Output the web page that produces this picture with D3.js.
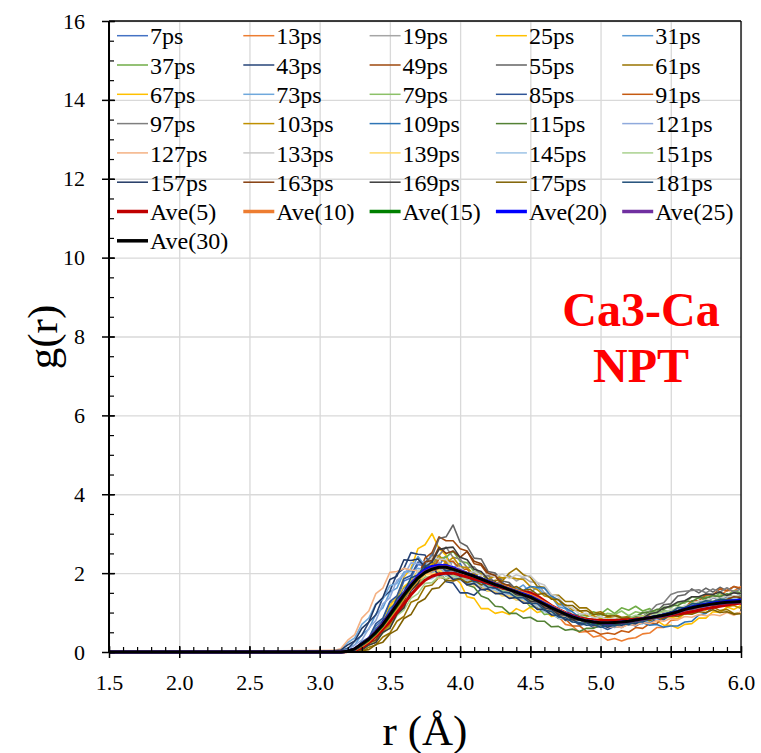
<!DOCTYPE html>
<html><head><meta charset="utf-8">
<script src="https://cdn.jsdelivr.net/npm/d3@7"></script>
<style>body{margin:0;background:#fff} svg{display:block}</style>
</head><body>
<svg id="c" width="761" height="753"></svg>
<script>
// r sampling (Å): first point at the axis start, then 3.10 .. 6.00 every 0.05
const rStart = 1.5;
const rGrid = [rStart].concat(d3.range(3.1, 6.0001, 0.05));

const xTickValues = [1.5, 2.0, 2.5, 3.0, 3.5, 4.0, 4.5, 5.0, 5.5, 6.0];
const yTickValues = [0, 2, 4, 6, 8, 10, 12, 14, 16];

const seriesNames = ["7ps","13ps","19ps","25ps","31ps","37ps","43ps","49ps","55ps","61ps",
  "67ps","73ps","79ps","85ps","91ps","97ps","103ps","109ps","115ps","121ps",
  "127ps","133ps","139ps","145ps","151ps","157ps","163ps","169ps","175ps","181ps"];
const seriesColors = ["#4472C4","#ED7D31","#A5A5A5","#FFC000","#5B9BD5",
  "#70AD47","#264478","#9E480E","#636363","#997300",
  "#FFC000","#6FA8DC","#8CC168","#2F5597","#C55A11",
  "#7F7F7F","#BF9000","#2E75B6","#548235","#8FAADC",
  "#F4B183","#C9C9C9","#FFD966","#9DC3E6","#A9D18E",
  "#203864","#843C0C","#3A3A3A","#7F6000","#1F4E79"];

const g7 = [0, 0,0,0.03,0.06,0.25,0.3,0.66,0.8,1.25,1.32,1.8,1.88,2.22,2.18,2.5,2.2,2.45,2.12,2.25,1.92,2.02,1.8,1.95,1.7,1.78,1.55,1.62,1.52,1.5,1.3,1.3,1.12,1.1,0.92,0.95,0.8,0.82,0.74,0.78,0.66,0.78,0.68,0.82,0.76,0.8,0.82,0.92,0.86,1.0,0.96,1.12,1.05,1.2,1.18,1.22,1.2,1.34,1.25,1.38];
const g13 = [0, 0,0,0.02,0.04,0.18,0.26,0.52,0.64,1.05,1.12,1.6,1.62,1.98,1.95,2.3,2.02,2.32,2.05,2.1,1.88,1.98,1.72,1.82,1.6,1.66,1.46,1.52,1.34,1.36,1.14,1.16,0.92,0.9,0.7,0.66,0.5,0.52,0.38,0.42,0.3,0.34,0.28,0.34,0.36,0.46,0.48,0.62,0.62,0.8,0.82,1.0,1.02,1.2,1.22,1.4,1.42,1.56,1.55,1.66];
const g19 = [0, 0,0,0.01,0.05,0.08,0.28,0.36,0.68,0.8,1.18,1.32,1.72,1.8,2.08,2.02,2.28,2.1,2.3,2.02,2.12,1.95,2.02,1.92,1.96,1.85,1.95,1.8,1.9,1.78,1.76,1.5,1.45,1.2,1.15,0.94,0.95,0.82,0.86,0.76,0.82,0.78,0.88,0.78,0.9,0.86,0.96,0.92,1.05,1.0,1.14,1.12,1.24,1.2,1.34,1.24,1.4,1.36,1.42,1.38];
const g25 = [0, 0,0,0.02,0.04,0.15,0.25,0.56,0.74,1.18,1.38,1.9,2.12,2.62,2.72,3.0,2.62,2.45,1.92,1.75,1.4,1.36,1.1,1.1,0.98,1.02,0.95,1.1,1.02,1.14,1.0,1.05,0.9,0.94,0.8,0.84,0.72,0.76,0.66,0.75,0.64,0.74,0.7,0.78,0.74,0.84,0.78,0.8,0.68,0.68,0.6,0.7,0.72,0.86,0.86,1.02,1.0,1.14,1.08,1.18];
const g31 = [0, 0.01,0.03,0.1,0.18,0.44,0.58,0.96,1.12,1.52,1.62,2.02,2.08,2.42,2.18,2.46,2.12,2.16,1.9,1.95,1.74,1.8,1.66,1.76,1.6,1.64,1.72,1.58,1.7,1.5,1.65,1.45,1.4,1.15,1.1,0.9,0.9,0.74,0.76,0.66,0.72,0.62,0.74,0.68,0.72,0.72,0.84,0.82,0.92,0.88,1.02,1.02,1.16,1.14,1.24,1.22,1.34,1.25,1.4,1.35];
const g37 = [0, 0,0,0.01,0.03,0.08,0.24,0.3,0.6,0.72,1.06,1.18,1.58,1.68,2.02,2.04,2.38,2.4,2.56,2.3,2.26,2.04,2.0,1.8,1.76,1.56,1.55,1.38,1.36,1.15,1.15,0.95,0.98,0.85,0.9,0.84,0.96,0.92,1.02,0.96,1.1,0.98,1.12,1.06,1.16,1.04,1.1,0.98,1.04,1.02,1.14,1.12,1.25,1.24,1.4,1.36,1.5,1.44,1.55,1.5];
const g43 = [0, 0.01,0.04,0.08,0.28,0.42,0.76,0.94,1.38,1.54,1.98,2.12,2.52,2.48,2.46,2.12,2.06,1.78,1.75,1.5,1.5,1.44,1.6,1.55,1.6,1.45,1.5,1.38,1.4,1.25,1.26,1.08,1.1,0.94,0.94,0.82,0.84,0.74,0.78,0.68,0.76,0.65,0.74,0.7,0.78,0.76,0.86,0.82,0.94,0.92,1.04,1.05,1.16,1.15,1.26,1.22,1.32,1.28,1.36,1.33];
const g49 = [0, 0,0,0.01,0.03,0.06,0.22,0.28,0.56,0.7,1.06,1.24,1.68,1.88,2.38,2.52,2.92,2.82,2.82,2.62,2.56,2.24,2.2,1.95,1.92,1.7,1.7,1.5,1.5,1.34,1.34,1.18,1.16,0.98,0.98,0.85,0.86,0.76,0.82,0.72,0.82,0.77,0.86,0.82,0.86,0.85,0.94,0.92,1.02,0.98,1.12,1.1,1.18,1.16,1.26,1.22,1.32,1.26,1.3,1.27];
const g55 = [0, 0,0,0.01,0.03,0.05,0.18,0.26,0.54,0.66,1.02,1.18,1.62,1.82,2.28,2.42,2.88,2.92,3.22,2.78,2.68,2.38,2.36,2.04,2.0,1.8,1.76,1.58,1.55,1.36,1.34,1.15,1.14,0.96,0.95,0.82,0.84,0.72,0.8,0.7,0.78,0.75,0.84,0.82,0.92,0.9,1.02,1.02,1.2,1.22,1.42,1.45,1.6,1.5,1.62,1.52,1.64,1.55,1.66,1.58];
const g61 = [0, 0,0,0,0.01,0.02,0.12,0.18,0.38,0.48,0.78,0.9,1.26,1.34,1.66,1.7,1.9,1.85,1.9,1.88,1.84,1.7,1.74,1.68,1.82,1.8,2.0,2.12,1.96,1.9,1.66,1.64,1.44,1.44,1.28,1.28,1.12,1.12,0.98,1.02,0.92,0.95,0.88,0.9,0.84,0.85,0.82,0.9,0.88,0.98,0.96,1.08,1.05,1.12,1.08,1.14,1.05,1.08,0.97,1.0];
const g67 = [0, 0,0,0.02,0.05,0.2,0.3,0.6,0.76,1.12,1.3,1.66,1.8,2.06,2.1,2.25,2.05,2.1,1.9,1.95,1.78,1.8,1.65,1.66,1.5,1.55,1.4,1.44,1.3,1.3,1.1,1.12,0.96,0.95,0.82,0.83,0.72,0.75,0.68,0.75,0.72,0.82,0.78,0.88,0.86,0.92,0.88,0.98,0.86,0.88,0.84,0.98,0.96,1.08,1.06,1.18,1.16,1.25,1.22,1.24];
const g73 = [0, 0.03,0.06,0.24,0.36,0.7,0.86,1.22,1.34,1.68,1.74,2.02,2.04,2.12,2.08,2.06,1.9,2.05,1.84,1.9,1.76,1.8,1.65,1.66,1.54,1.55,1.4,1.42,1.28,1.3,1.14,1.14,0.98,0.98,0.84,0.85,0.75,0.78,0.7,0.73,0.65,0.73,0.7,0.72,0.7,0.78,0.75,0.86,0.82,0.94,0.92,1.04,1.02,1.14,1.12,1.24,1.2,1.28,1.2,1.3];
const g79 = [0, 0,0,0.01,0.04,0.08,0.26,0.34,0.66,0.8,1.16,1.3,1.6,1.7,1.9,1.9,2.05,1.92,2.04,1.86,1.9,1.76,1.76,1.64,1.64,1.5,1.52,1.4,1.42,1.25,1.26,1.08,1.08,0.95,0.95,0.85,0.88,0.88,0.98,0.9,0.98,0.95,1.04,0.92,1.02,0.98,1.04,1.02,1.14,1.12,1.25,1.24,1.4,1.36,1.46,1.42,1.44,1.42,1.52,1.43];
const g85 = [0, 0,0.01,0.04,0.08,0.26,0.36,0.72,0.86,1.28,1.42,1.86,1.94,2.28,2.24,2.3,2.1,2.25,2.0,2.0,1.84,1.85,1.68,1.7,1.56,1.58,1.46,1.46,1.3,1.32,1.15,1.14,0.96,0.96,0.8,0.82,0.68,0.72,0.62,0.65,0.57,0.65,0.62,0.72,0.66,0.76,0.72,0.84,0.82,0.96,0.96,1.14,1.16,1.3,1.26,1.38,1.3,1.42,1.36,1.45];
const g91 = [0, 0,0,0.01,0.03,0.06,0.22,0.3,0.58,0.7,1.06,1.22,1.62,1.74,2.06,2.1,2.36,2.3,2.3,2.1,2.1,1.9,1.9,1.74,1.74,1.58,1.6,1.44,1.44,1.28,1.26,1.06,1.04,0.86,0.84,0.66,0.66,0.52,0.54,0.45,0.48,0.45,0.54,0.5,0.62,0.6,0.72,0.72,0.9,0.92,1.1,1.12,1.3,1.3,1.44,1.45,1.6,1.56,1.66,1.62];
const g97 = [0, 0,0,0.01,0.04,0.12,0.18,0.4,0.5,0.86,1.0,1.42,1.6,1.98,2.1,2.42,2.45,2.66,2.4,2.36,2.14,2.16,1.95,1.94,1.76,1.74,1.56,1.54,1.38,1.38,1.2,1.18,1.0,0.98,0.84,0.85,0.74,0.78,0.7,0.72,0.7,0.78,0.76,0.86,0.86,0.99,1.02,1.2,1.25,1.46,1.52,1.54,1.56,1.58,1.5,1.6,1.52,1.63,1.52,1.6];
const g103 = [0, 0,0,0,0.03,0.06,0.2,0.28,0.52,0.66,1.0,1.15,1.56,1.74,2.1,2.2,2.45,2.25,2.4,2.16,2.14,1.96,1.98,1.86,1.92,1.88,1.9,1.86,1.84,1.66,1.58,1.42,1.38,1.22,1.2,1.06,1.05,0.92,0.92,0.85,0.88,0.85,0.85,0.82,0.86,0.82,0.9,0.88,0.96,0.92,1.04,1.02,1.14,1.12,1.22,1.18,1.24,1.15,1.18,1.1];
const g109 = [0, 0,0,0.03,0.05,0.2,0.3,0.6,0.74,1.1,1.26,1.6,1.76,2.0,2.02,2.14,1.96,2.08,1.92,1.9,1.76,1.75,1.62,1.62,1.52,1.52,1.5,1.58,1.56,1.66,1.64,1.62,1.42,1.32,1.12,1.02,0.88,0.84,0.76,0.78,0.75,0.82,0.8,0.8,0.72,0.74,0.68,0.7,0.63,0.66,0.66,0.76,0.78,0.94,0.98,1.14,1.18,1.32,1.3,1.38];
const g115 = [0, 0,0,0.01,0.03,0.12,0.2,0.44,0.58,0.94,1.06,1.46,1.6,1.9,1.95,2.15,2.15,2.2,2.0,1.94,1.7,1.64,1.42,1.35,1.16,1.14,0.98,0.98,0.86,0.88,0.78,0.78,0.64,0.65,0.55,0.58,0.52,0.6,0.6,0.68,0.68,0.78,0.78,0.88,0.9,1.0,1.0,1.08,1.08,1.18,1.18,1.28,1.28,1.38,1.36,1.43,1.4,1.48,1.38,1.44];
const g121 = [0, 0,0.03,0.05,0.18,0.3,0.6,0.8,1.22,1.38,1.82,1.94,2.26,2.24,2.3,2.14,2.14,2.0,2.04,1.86,1.88,1.74,1.74,1.58,1.58,1.44,1.46,1.32,1.34,1.22,1.22,1.06,1.06,0.92,0.92,0.8,0.8,0.72,0.76,0.68,0.76,0.72,0.76,0.76,0.84,0.8,0.88,0.86,0.96,0.96,1.08,1.08,1.18,1.18,1.25,1.22,1.32,1.26,1.28,1.25];
const g127 = [0, 0.04,0.08,0.3,0.44,0.86,1.04,1.48,1.62,2.02,2.04,2.12,2.08,2.06,2.04,1.98,1.86,1.98,1.8,1.84,1.7,1.74,1.6,1.64,1.5,1.54,1.4,1.44,1.3,1.32,1.16,1.16,1.0,1.0,0.86,0.88,0.76,0.78,0.66,0.7,0.62,0.65,0.62,0.7,0.68,0.75,0.72,0.8,0.78,0.85,0.82,0.9,0.88,0.95,0.92,0.95,0.92,1.0,0.93,1.02];
const g133 = [0, 0,0,0.03,0.04,0.18,0.25,0.52,0.66,1.02,1.14,1.58,1.7,2.06,2.14,2.4,2.36,2.34,2.14,2.14,2.0,2.04,1.94,1.98,1.9,1.98,1.86,1.96,1.9,1.94,1.76,1.7,1.46,1.4,1.16,1.12,0.96,0.98,0.86,0.9,0.82,0.85,0.78,0.84,0.82,0.9,0.9,0.98,0.98,1.08,1.08,1.18,1.2,1.3,1.3,1.38,1.35,1.42,1.4,1.47];
const g139 = [0, 0,0,0.02,0.07,0.13,0.33,0.46,0.78,0.9,1.26,1.4,1.7,1.78,1.96,1.96,2.08,1.94,1.92,1.82,1.82,1.68,1.68,1.54,1.55,1.42,1.42,1.32,1.32,1.2,1.17,1.05,1.02,0.9,0.87,0.78,0.78,0.7,0.72,0.66,0.72,0.7,0.77,0.76,0.84,0.83,0.9,0.88,0.94,0.93,1.02,1.03,1.12,1.13,1.22,1.2,1.27,1.26,1.32,1.3];
const g145 = [0, 0,0,0.01,0.04,0.08,0.25,0.37,0.64,0.78,1.1,1.25,1.54,1.64,1.84,1.86,1.98,1.94,1.92,1.82,1.82,1.72,1.7,1.6,1.57,1.48,1.47,1.38,1.34,1.22,1.17,1.02,0.97,0.86,0.84,0.76,0.77,0.7,0.72,0.66,0.67,0.66,0.72,0.7,0.77,0.76,0.84,0.83,0.9,0.9,1.0,1.03,1.12,1.13,1.22,1.23,1.32,1.3,1.37,1.36];
const g151 = [0, 0,0,0,0.03,0.05,0.17,0.26,0.48,0.62,0.92,1.06,1.36,1.48,1.74,1.76,1.92,1.86,1.95,1.85,1.88,1.77,1.78,1.67,1.68,1.55,1.55,1.42,1.43,1.32,1.31,1.17,1.13,0.99,0.98,0.87,0.88,0.8,0.83,0.76,0.83,0.8,0.88,0.86,0.93,0.9,0.98,0.96,1.03,1.03,1.13,1.13,1.23,1.23,1.31,1.28,1.35,1.33,1.4,1.38];
const g157 = [0, 0.03,0.05,0.18,0.28,0.6,0.76,1.2,1.38,1.84,1.92,2.34,2.32,2.36,2.14,2.16,1.94,2.0,1.84,1.86,1.7,1.74,1.58,1.6,1.48,1.48,1.36,1.38,1.24,1.24,1.08,1.08,0.94,0.93,0.82,0.82,0.72,0.74,0.67,0.7,0.63,0.7,0.68,0.74,0.72,0.82,0.82,0.92,0.92,1.02,1.02,1.12,1.12,1.2,1.2,1.27,1.26,1.32,1.3,1.36];
const g163 = [0, 0,0,0.01,0.03,0.06,0.24,0.3,0.6,0.74,1.12,1.28,1.72,1.88,2.28,2.32,2.66,2.5,2.56,2.4,2.55,2.3,2.24,2.0,1.94,1.74,1.68,1.52,1.48,1.35,1.33,1.17,1.13,0.97,0.95,0.83,0.82,0.76,0.77,0.7,0.72,0.7,0.77,0.76,0.82,0.8,0.87,0.86,0.94,0.93,1.02,1.03,1.12,1.13,1.22,1.23,1.32,1.33,1.4,1.38];
const g169 = [0, 0,0,0.01,0.03,0.05,0.18,0.24,0.5,0.6,0.96,1.12,1.56,1.74,2.16,2.28,2.6,2.64,2.66,2.4,2.34,2.1,2.04,1.84,1.78,1.62,1.58,1.45,1.43,1.29,1.28,1.12,1.08,0.95,0.93,0.82,0.82,0.76,0.77,0.7,0.72,0.7,0.77,0.76,0.84,0.86,0.97,1.0,1.12,1.16,1.27,1.3,1.4,1.4,1.47,1.46,1.52,1.43,1.5,1.48];
const g175 = [0, 0,0,0,0.01,0.03,0.06,0.19,0.25,0.46,0.56,0.85,0.95,1.25,1.35,1.6,1.63,1.82,1.8,1.86,1.76,1.82,1.7,1.76,1.66,1.72,1.6,1.66,1.56,1.59,1.46,1.49,1.34,1.33,1.18,1.18,1.04,1.05,0.95,0.97,0.9,0.92,0.86,0.87,0.8,0.82,0.8,0.87,0.86,0.92,0.9,0.97,0.96,1.02,1.0,1.07,1.0,1.02,0.96,0.97];
const g181 = [0, 0,0,0.02,0.07,0.13,0.33,0.46,0.8,0.96,1.36,1.52,1.88,1.95,2.2,2.16,2.2,2.06,2.08,1.92,1.93,1.78,1.78,1.64,1.63,1.52,1.5,1.38,1.38,1.24,1.23,1.06,1.03,0.89,0.87,0.76,0.74,0.68,0.7,0.63,0.68,0.66,0.72,0.7,0.77,0.76,0.84,0.86,0.97,1.0,1.12,1.13,1.22,1.23,1.3,1.28,1.34,1.32,1.32,1.3];

const aveNames = ["Ave(5)","Ave(10)","Ave(15)","Ave(20)","Ave(25)","Ave(30)"];
const aveColors = ["#C00000","#ED7D31","#008000","#0000FF","#7030A0","#000000"];
const ave5 = [0, 0,0,0.01,0.04,0.12,0.24,0.4,0.58,0.78,1.0,1.22,1.45,1.65,1.82,1.92,1.98,2.0,2.0,1.95,1.9,1.85,1.8,1.74,1.68,1.63,1.58,1.54,1.52,1.5,1.42,1.3,1.18,1.08,1.0,0.93,0.87,0.83,0.81,0.8,0.8,0.8,0.81,0.82,0.83,0.85,0.87,0.89,0.91,0.93,0.96,0.99,1.02,1.06,1.1,1.13,1.16,1.19,1.22,1.24];
const ave10 = [0, 0,0,0.01,0.06,0.16,0.28,0.45,0.65,0.88,1.12,1.38,1.62,1.84,2.0,2.08,2.14,2.14,2.1,2.04,1.98,1.92,1.86,1.8,1.74,1.68,1.62,1.56,1.5,1.44,1.36,1.26,1.16,1.07,0.98,0.9,0.84,0.8,0.77,0.75,0.74,0.75,0.76,0.78,0.8,0.83,0.86,0.89,0.93,0.97,1.02,1.07,1.12,1.16,1.2,1.23,1.25,1.27,1.28,1.3];
const ave15 = [0, 0,0,0.02,0.07,0.18,0.31,0.48,0.68,0.92,1.17,1.42,1.66,1.87,2.02,2.11,2.16,2.16,2.11,2.05,1.99,1.93,1.86,1.79,1.72,1.66,1.59,1.53,1.46,1.4,1.31,1.22,1.13,1.04,0.96,0.89,0.83,0.78,0.75,0.73,0.72,0.73,0.75,0.77,0.8,0.83,0.87,0.9,0.94,0.98,1.03,1.09,1.14,1.18,1.21,1.24,1.26,1.28,1.29,1.3];
const ave20 = [0, 0,0,0.02,0.08,0.2,0.34,0.52,0.73,0.98,1.23,1.48,1.72,1.93,2.08,2.17,2.2,2.19,2.14,2.06,1.99,1.93,1.86,1.79,1.72,1.66,1.59,1.53,1.47,1.41,1.32,1.23,1.14,1.05,0.97,0.9,0.84,0.79,0.76,0.74,0.73,0.74,0.76,0.78,0.81,0.84,0.87,0.9,0.94,0.98,1.03,1.09,1.14,1.18,1.21,1.24,1.26,1.28,1.3,1.31];
const ave25 = [0, 0,0,0.02,0.08,0.2,0.34,0.52,0.72,0.97,1.22,1.47,1.7,1.9,2.04,2.12,2.16,2.16,2.11,2.05,1.99,1.92,1.85,1.78,1.71,1.65,1.58,1.52,1.45,1.39,1.3,1.21,1.12,1.04,0.96,0.89,0.83,0.79,0.76,0.74,0.73,0.74,0.75,0.77,0.8,0.83,0.86,0.89,0.92,0.96,1.01,1.07,1.11,1.15,1.18,1.21,1.23,1.25,1.26,1.27];
const ave30 = [0, 0,0,0.02,0.08,0.2,0.33,0.5,0.7,0.95,1.2,1.45,1.68,1.88,2.02,2.1,2.15,2.15,2.1,2.04,1.98,1.92,1.85,1.78,1.71,1.65,1.58,1.52,1.45,1.39,1.3,1.21,1.12,1.04,0.96,0.89,0.83,0.79,0.76,0.74,0.74,0.75,0.76,0.78,0.81,0.84,0.87,0.9,0.93,0.97,1.02,1.08,1.12,1.16,1.19,1.22,1.24,1.26,1.27,1.28];

const seriesValues = [g7,g13,g19,g25,g31,g37,g43,g49,g55,g61,g67,g73,g79,g85,g91,g97,g103,g109,g115,g121,g127,g133,g139,g145,g151,g157,g163,g169,g175,g181];
const aveValues = [ave5, ave10, ave15, ave20, ave25, ave30];

const titleLines = ["Ca3-Ca", "NPT"];

// ---------- drawing ----------
const FONT = "'Liberation Serif','Times New Roman',Times,serif";
const svg = d3.select("#c");
const L = 109, R = 741, T = 21, B = 652;
const x = d3.scaleLinear().domain([1.5, 6.0]).range([L, R]);
const y = d3.scaleLinear().domain([0, 16]).range([B, T]);

svg.append("rect").attr("width", 761).attr("height", 753).attr("fill", "#fff");

// gridlines
svg.append("g").attr("transform", `translate(0,${B})`)
  .call(d3.axisBottom(x).tickValues(xTickValues).tickSize(-(B - T)).tickFormat(""))
  .call(g => g.select(".domain").remove())
  .call(g => g.selectAll("line").attr("stroke", "#d9d9d9").attr("stroke-width", 1.3));
svg.append("g").attr("transform", `translate(${L},0)`)
  .call(d3.axisLeft(y).tickValues(yTickValues).tickSize(-(R - L)).tickFormat(""))
  .call(g => g.select(".domain").remove())
  .call(g => g.selectAll("line").attr("stroke", "#d9d9d9").attr("stroke-width", 1.3));

// frame top/right
svg.append("line").attr("x1", L).attr("x2", R).attr("y1", T).attr("y2", T).attr("stroke", "#000").attr("stroke-width", 1.3);
svg.append("line").attr("x1", R).attr("x2", R).attr("y1", T).attr("y2", B).attr("stroke", "#000").attr("stroke-width", 1.3);

// data lines
svg.append("clipPath").attr("id", "pc").append("rect")
  .attr("x", L).attr("y", T).attr("width", R - L).attr("height", B - T + 2);
const line = d3.line().x((d, i) => x(rGrid[i])).y(d => y(d));
const plot = svg.append("g").attr("clip-path", "url(#pc)");
seriesValues.forEach((vals, k) => {
  plot.append("path").attr("d", line(vals.slice(0, rGrid.length)))
    .attr("fill", "none").attr("stroke", seriesColors[k]).attr("stroke-width", 1.6)
    .attr("stroke-linejoin", "round");
});
aveValues.forEach((vals, k) => {
  plot.append("path").attr("d", line(vals.slice(0, rGrid.length)))
    .attr("fill", "none").attr("stroke", aveColors[k]).attr("stroke-width", 3)
    .attr("stroke-linejoin", "round");
});

// axes
svg.append("g").attr("transform", `translate(0,${B})`)
  .call(d3.axisBottom(x).tickValues(d3.range(1.5, 6.001, 0.1)).tickSize(-5).tickFormat(""))
  .call(g => g.select(".domain").remove())
  .call(g => g.selectAll("line").attr("stroke", "#000").attr("stroke-width", 1.2));
const xMaj = svg.append("g").attr("transform", `translate(0,${B})`)
  .call(d3.axisBottom(x).tickValues(xTickValues).tickSize(6).tickPadding(16).tickFormat(d3.format(".1f")));
xMaj.select(".domain").attr("stroke", "#000").attr("stroke-width", 2).attr("d", `M${L},0H${R}`);
xMaj.selectAll(".tick line").attr("y1", -6).attr("stroke", "#000").attr("stroke-width", 1.5);
xMaj.selectAll(".tick text").style("font-family", FONT).style("font-size", "22px").attr("fill", "#000");

svg.append("g").attr("transform", `translate(${L},0)`)
  .call(d3.axisLeft(y).tickValues(d3.range(0, 16.001, 0.5)).tickSize(-5).tickFormat(""))
  .call(g => g.select(".domain").remove())
  .call(g => g.selectAll("line").attr("stroke", "#000").attr("stroke-width", 1.2));
const yMaj = svg.append("g").attr("transform", `translate(${L},0)`)
  .call(d3.axisLeft(y).tickValues(yTickValues).tickSize(7).tickPadding(17).tickFormat(d3.format("d")));
yMaj.select(".domain").attr("stroke", "#000").attr("stroke-width", 2).attr("d", `M0,${T}V${B}`);
yMaj.selectAll(".tick line").attr("x1", 6).attr("stroke", "#000").attr("stroke-width", 1.5);
yMaj.selectAll(".tick text").style("font-family", FONT).style("font-size", "22px").attr("fill", "#000");

// axis titles
svg.append("text").attr("x", (L + R) / 2).attr("y", 745).attr("text-anchor", "middle")
  .style("font-family", FONT).style("font-size", "43px").text("r (Å)");
svg.append("text").attr("transform", "translate(57,337) rotate(-90)").attr("text-anchor", "middle")
  .style("font-family", FONT).style("font-size", "43px").text("g(r)");

// in-plot title
titleLines.forEach((t, i) => {
  svg.append("text").attr("x", 641).attr("y", 326 + i * 56).attr("text-anchor", "middle")
    .style("font-family", FONT).style("font-weight", "bold").style("font-size", "48px")
    .attr("fill", "#FF0000").text(t);
});

// legend
const legItems = seriesNames.map((n, k) => ({name: n, color: seriesColors[k], w: 1.5}))
  .concat(aveNames.map((n, k) => ({name: n, color: aveColors[k], w: 3.5})));
const leg = svg.append("g");
legItems.forEach((it, k) => {
  const col = k % 5, row = Math.floor(k / 5);
  const lx = 117 + col * 126.3, ly = 35.7 + row * 29.3;
  leg.append("line").attr("x1", lx).attr("x2", lx + 31).attr("y1", ly).attr("y2", ly)
    .attr("stroke", it.color).attr("stroke-width", it.w);
  leg.append("text").attr("x", lx + 33).attr("y", ly + 8.6)
    .style("font-family", FONT).style("font-size", "24px").attr("fill", "#000").text(it.name);
});
</script>
</body></html>
